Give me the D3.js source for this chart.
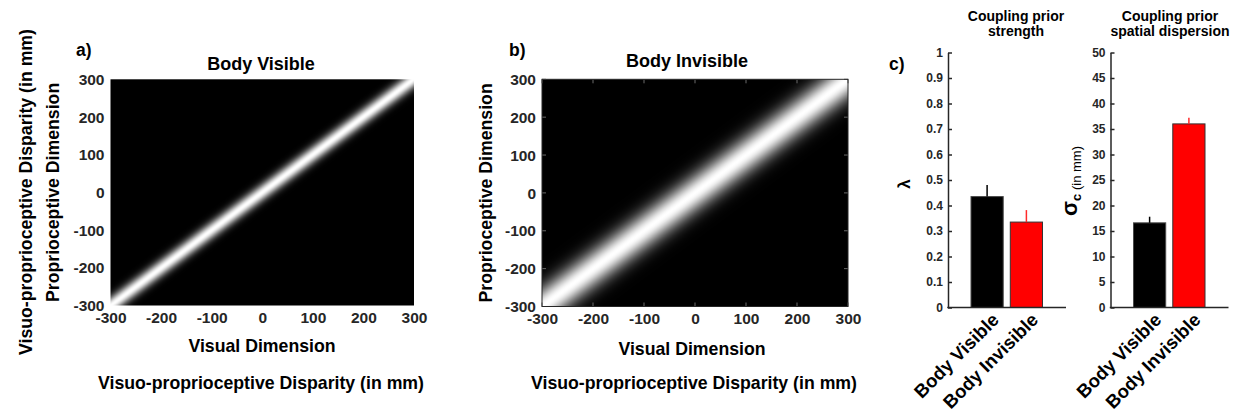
<!DOCTYPE html>
<html><head><meta charset="utf-8">
<script src="https://cdn.jsdelivr.net/npm/d3@7"></script>
<style>
body{margin:0;background:#fff}
svg{display:block}
text{font-family:"Liberation Sans",Arial,Helvetica,sans-serif;font-weight:bold;}
</style>
</head><body>
<svg id="chart" width="1246" height="416"></svg>
<script>
// ---------- data ----------
const heatTicks = [-300, -200, -100, 0, 100, 200, 300];
const conditions = ["Body Visible", "Body Invisible"];
const lambdaMean = [0.435, 0.335];
const lambdaUpper = [0.48, 0.382];
const sigmaMean = [16.6, 36.0];
const sigmaUpper = [17.8, 37.2];
const lambdaTicks = [0, 0.1, 0.2, 0.3, 0.4, 0.5, 0.6, 0.7, 0.8, 0.9, 1];
const sigmaTicks = [0, 5, 10, 15, 20, 25, 30, 35, 40, 45, 50];
const barColors = ["#000000", "#ff0000"];
const errColors = ["#000000", "#ff2a2a"];

const svg = d3.select("#chart");
svg.append("rect").attr("width", 1246).attr("height", 416).attr("fill", "#fff");
const TXT = "#262626";

// ---------- heatmaps ----------
function heatmap(cfg) {
  const x = d3.scaleLinear().domain([-300, 300]).range([cfg.left, cfg.right]);
  const y = d3.scaleLinear().domain([-300, 300]).range([cfg.bottom, cfg.top]);
  const W = Math.round(cfg.right - cfg.left), H = Math.round(cfg.bottom - cfg.top);
  const gray = d3.scaleLinear().domain([0, 1]).range([0, 255]).clamp(true);
  const canvas = document.createElement("canvas");
  canvas.width = W; canvas.height = H;
  const ctx = canvas.getContext("2d");
  const img = ctx.createImageData(W, H);
  for (let j = 0; j < H; j++) {
    const p = y.invert(cfg.top + j + 0.5);
    for (let i = 0; i < W; i++) {
      const v = x.invert(cfg.left + i + 0.5);
      const d = v - p;
      const g = gray(Math.exp(-d * d / (2 * cfg.sigma * cfg.sigma)));
      const k = (j * W + i) * 4;
      img.data[k] = img.data[k + 1] = img.data[k + 2] = g;
      img.data[k + 3] = 255;
    }
  }
  ctx.putImageData(img, 0, 0);
  svg.append("image")
    .attr("x", cfg.left).attr("y", cfg.top)
    .attr("width", cfg.right - cfg.left).attr("height", cfg.bottom - cfg.top)
    .attr("preserveAspectRatio", "none")
    .attr("href", canvas.toDataURL());

  if (cfg.frame) {
    // inner ticks + box
    const tg = svg.append("g").attr("stroke", "#6a6a6a").attr("stroke-width", 1);
    heatTicks.forEach(t => {
      tg.append("line").attr("x1", x(t)).attr("x2", x(t)).attr("y1", cfg.top).attr("y2", cfg.top + 4);
      tg.append("line").attr("x1", x(t)).attr("x2", x(t)).attr("y1", cfg.bottom).attr("y2", cfg.bottom - 4);
      tg.append("line").attr("y1", y(t)).attr("y2", y(t)).attr("x1", cfg.right).attr("x2", cfg.right - 4);
      tg.append("line").attr("y1", y(t)).attr("y2", y(t)).attr("x1", cfg.left).attr("x2", cfg.left + 4);
    });
    svg.append("rect").attr("x", cfg.left).attr("y", cfg.top)
      .attr("width", cfg.right - cfg.left).attr("height", cfg.bottom - cfg.top)
      .attr("fill", "none").attr("stroke", "#262626").attr("stroke-width", 1);
  }

  const ax = svg.append("g").attr("transform", `translate(0,${cfg.bottom})`)
    .call(d3.axisBottom(x).tickValues(heatTicks).tickSize(0).tickPadding(6).tickFormat(d => String(d)));
  const ay = svg.append("g").attr("transform", `translate(${cfg.left},0)`)
    .call(d3.axisLeft(y).tickValues(heatTicks).tickSize(0).tickPadding(6).tickFormat(d => String(d)));
  [ax, ay].forEach(a => {
    a.select(".domain").remove();
    a.selectAll("text").attr("font-size", "15.5px").attr("fill", TXT)
      .style("font-family", '"Liberation Sans",Arial,sans-serif').style("font-weight", "bold");
  });
  ax.selectAll("text").attr("dy", null).attr("y", 17.5);
  ay.selectAll("text").attr("dy", "0.33em");

  svg.append("text").attr("x", cfg.titleX).attr("y", cfg.titleY).attr("text-anchor", "middle")
    .attr("font-size", "18px").attr("fill", "#000").text(cfg.title);
  svg.append("text").attr("x", cfg.letterX).attr("y", 56).attr("font-size", "17.5px")
    .attr("fill", "#000").text(cfg.letter);
  svg.append("text").attr("x", cfg.xlabX).attr("y", cfg.xlabY).attr("text-anchor", "middle")
    .attr("font-size", "17.7px").attr("fill", "#000").text("Visual Dimension");
  svg.append("text").attr("x", cfg.dispX).attr("y", 389).attr("text-anchor", "middle")
    .attr("font-size", "17.7px").attr("fill", "#000").text("Visuo-proprioceptive Disparity (in mm)");
  svg.append("text").attr("transform", `translate(${cfg.ylabX},${(cfg.top + cfg.bottom) / 2}) rotate(-90)`)
    .attr("text-anchor", "middle").attr("font-size", "17.7px").attr("fill", "#000")
    .text("Proprioceptive Dimension");
}

heatmap({left: 110.5, right: 414, top: 79.3, bottom: 305.5, sigma: sigmaMean[0], frame: false,
  title: "Body Visible", titleX: 261, titleY: 70, letter: "a)", letterX: 76,
  xlabX: 262, xlabY: 352, dispX: 261, ylabX: 59});
heatmap({left: 542, right: 848, top: 79.3, bottom: 306.5, sigma: sigmaMean[1], frame: true,
  title: "Body Invisible", titleX: 687, titleY: 67, letter: "b)", letterX: 509,
  xlabX: 692, xlabY: 355, dispX: 694, ylabX: 492});

// outer rotated label (panel a)
svg.append("text").attr("transform", "translate(32,192) rotate(-90)")
  .attr("text-anchor", "middle").attr("font-size", "17.7px").attr("fill", "#000")
  .text("Visuo-proprioceptive Disparity (in mm)");

// ---------- bar charts ----------
function barChart(cfg) {
  const y = d3.scaleLinear().domain([0, cfg.max]).range([307.5, 52.5]);
  const x = d3.scaleBand().domain(conditions).range([cfg.x0 + 23, cfg.x0 + 94.5]).paddingInner(0.18).paddingOuter(0);
  const g = svg.append("g");
  conditions.forEach((c, i) => {
    g.append("rect").attr("x", x(c)).attr("width", x.bandwidth())
      .attr("y", y(cfg.mean[i])).attr("height", y(0) - y(cfg.mean[i]))
      .attr("fill", barColors[i]).attr("stroke", i === 0 ? "#4a4a4a" : "#333").attr("stroke-width", 1);
    g.append("line").attr("x1", x(c) + x.bandwidth() / 2).attr("x2", x(c) + x.bandwidth() / 2)
      .attr("y1", y(cfg.mean[i])).attr("y2", y(cfg.upper[i]))
      .attr("stroke", errColors[i]).attr("stroke-width", 1.5);
    g.append("text")
      .attr("transform", `translate(${x(c) + x.bandwidth() / 2 + 13},321) rotate(-45)`)
      .attr("text-anchor", "end").attr("font-size", "18.5px").attr("fill", "#000").text(c);
  });
  const ay = svg.append("g").attr("transform", `translate(${cfg.x0},0)`)
    .call(d3.axisLeft(y).tickValues(cfg.ticks).tickSizeInner(-4).tickSizeOuter(0).tickPadding(5)
      .tickFormat(d => String(d)));
  ay.select(".domain").attr("stroke", TXT).attr("stroke-width", 1.5);
  ay.selectAll(".tick line").attr("stroke", TXT).attr("stroke-width", 1.5);
  ay.selectAll("text").attr("font-size", "12px").attr("fill", TXT)
    .style("font-family", '"Liberation Sans",Arial,sans-serif').style("font-weight", "bold");
  svg.append("line").attr("x1", cfg.x0 - 0.75).attr("x2", cfg.x0 + 118).attr("y1", y(0)).attr("y2", y(0))
    .attr("stroke", TXT).attr("stroke-width", 1.5);
  const t = svg.append("text").attr("text-anchor", "middle").attr("font-size", "14px").attr("fill", "#000");
  t.append("tspan").attr("x", cfg.titleX).attr("y", 20.5).text(cfg.title[0]);
  t.append("tspan").attr("x", cfg.titleX).attr("y", 36).text(cfg.title[1]);
}

barChart({x0: 948, max: 1, ticks: lambdaTicks, mean: lambdaMean, upper: lambdaUpper,
  titleX: 1016, title: ["Coupling prior", "strength"]});
barChart({x0: 1110.5, max: 50, ticks: sigmaTicks, mean: sigmaMean, upper: sigmaUpper,
  titleX: 1170, title: ["Coupling prior", "spatial dispersion"]});

svg.append("text").attr("x", 889).attr("y", 70).attr("font-size", "17.5px").attr("fill", "#000").text("c)");
svg.append("text").attr("transform", "translate(910,184) rotate(-90)").attr("text-anchor", "middle")
  .attr("font-size", "17px").attr("fill", "#000").text("λ");
const sl = svg.append("text").attr("transform", "translate(1077,181) rotate(-90)").attr("text-anchor", "middle")
  .attr("fill", "#000");
sl.append("tspan").attr("font-size", "22px").text("σ");
sl.append("tspan").attr("font-size", "13px").attr("dy", 4).text("c");
sl.append("tspan").attr("font-size", "13px").style("font-weight", "normal").text(" (in mm)");
</script>
</body></html>
